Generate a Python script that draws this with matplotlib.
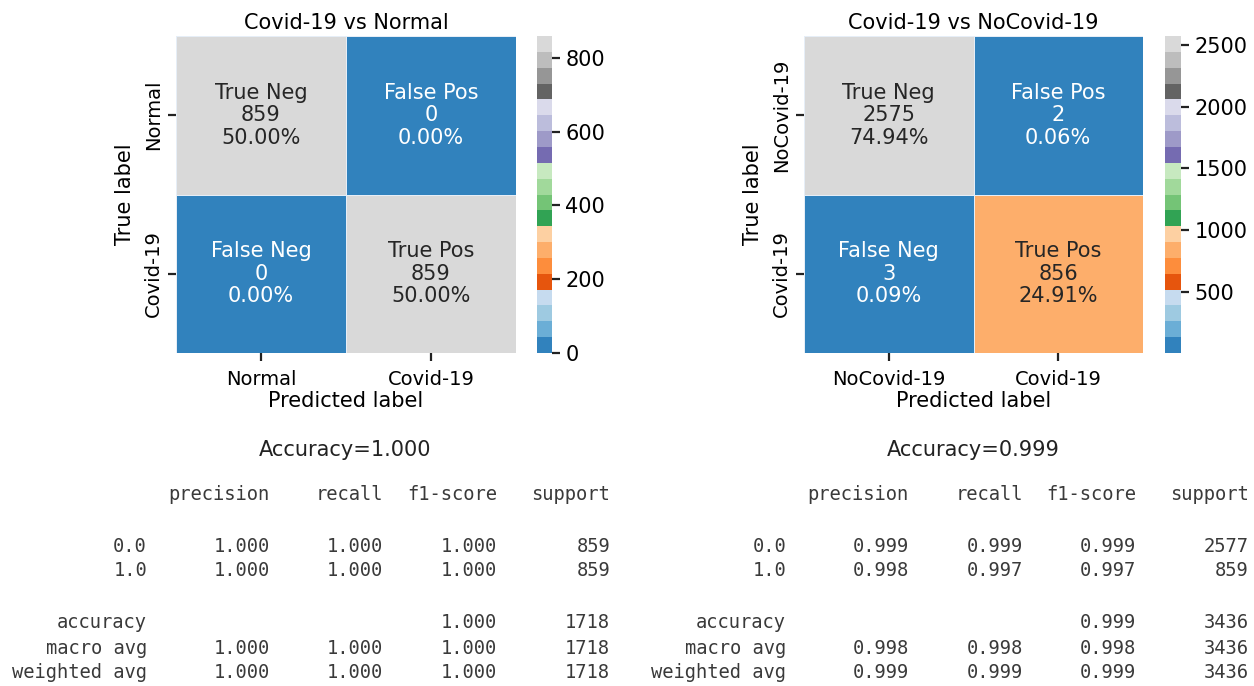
import numpy as np
import matplotlib
matplotlib.use("Agg")
import matplotlib.pyplot as plt
import seaborn as sns

W, H = 1254, 686

# ---------------- data ----------------
titles = ["Covid-19 vs Normal", "Covid-19 vs NoCovid-19"]
class_labels_1 = ["Normal", "Covid-19"]
class_labels_2 = ["NoCovid-19", "Covid-19"]
cm_1 = [[859, 0], [0, 859]]
cm_2 = [[2575, 2], [3, 856]]
group_names = ["True Neg", "False Pos", "False Neg", "True Pos"]
accuracy_1 = 1.000
accuracy_2 = 0.999

report_rows = ["0.0", "1.0", "accuracy", "macro avg", "weighted avg"]
report_cols = ["precision", "recall", "f1-score", "support"]
precision_1 = [1.000, 1.000, None, 1.000, 1.000]
recall_1 = [1.000, 1.000, None, 1.000, 1.000]
f1_1 = [1.000, 1.000, 1.000, 1.000, 1.000]
support_1 = [859, 859, 1718, 1718, 1718]
precision_2 = [0.999, 0.998, None, 0.998, 0.999]
recall_2 = [0.999, 0.997, None, 0.998, 0.999]
f1_2 = [0.999, 0.997, 0.999, 0.998, 0.999]
support_2 = [2577, 859, 3436, 3436, 3436]

cb_ticks_1 = [0, 200, 400, 600, 800]
cb_ticks_2 = [500, 1000, 1500, 2000, 2500]

fig = plt.figure(figsize=(W / 100, H / 100), dpi=100)
fig.patch.set_facecolor("white")


def px_axes(x0, y0, x1, y1):
    return fig.add_axes([x0 / W, 1 - y1 / H, (x1 - x0) / W, (y1 - y0) / H])


def draw_cm(ax, cax, cm, labels, title, ticks):
    cm = np.array(cm)
    total = cm.sum()
    counts = cm.flatten()
    annot = np.array([f"{n}\n{c}\n{c / total * 100:.2f}%" for n, c in zip(group_names, counts)]).reshape(2, 2)
    sns.heatmap(cm, annot=annot, fmt="", cmap="tab20c", ax=ax, cbar_ax=cax,
                linewidths=0.6, linecolor="#e6eef7",
                xticklabels=labels, yticklabels=labels,
                annot_kws={"fontsize": 15, "linespacing": 1.15})
    ax.set_title(title, fontsize=15, pad=5)
    ax.set_xlabel("Predicted label", fontsize=15, labelpad=2)
    ax.set_ylabel("True label", fontsize=15, labelpad=6)
    ax.tick_params(axis="both", length=6, width=1.6, labelsize=14, color="#222222")
    ax.tick_params(axis="x", pad=6)
    plt.setp(ax.get_yticklabels(), rotation=90, va="center")
    plt.setp(ax.get_xticklabels(), rotation=0)
    cax.set_yticks(ticks)
    cax.tick_params(length=6, width=1.6, labelsize=15, color="#222222")
    for s in cax.spines.values():
        s.set_visible(False)


ax1 = px_axes(176, 36, 516, 353)
cax1 = px_axes(537, 36, 552, 353)
draw_cm(ax1, cax1, cm_1, class_labels_1, titles[0], cb_ticks_1)

ax2 = px_axes(804, 36, 1143, 353)
cax2 = px_axes(1165, 36, 1181, 353)
draw_cm(ax2, cax2, cm_2, class_labels_2, titles[1], cb_ticks_2)


def fx(x):
    return x / W


def fy(y):
    return 1 - y / H


def draw_report(center_x, acc, label_r, col_r, prec, rec, f1, sup):
    mono = dict(family="DejaVu Sans Mono", fontsize=13.5, color="#3a3a3a")
    fig.text(fx(center_x), fy(450), f"Accuracy={acc:.3f}", fontsize=15,
             ha="center", va="center", color="#222222")
    for cname, xr in zip(report_cols, col_r):
        fig.text(fx(xr), fy(494), cname, ha="right", va="center", **mono)
    row_y = [546, 571, 623, 648, 673]
    for i, (rname, yy) in enumerate(zip(report_rows, row_y)):
        fig.text(fx(label_r), fy(yy), rname, ha="right", va="center", **mono)
        vals = [prec[i], rec[i], f1[i]]
        for v, xr in zip(vals, col_r[:3]):
            if v is not None:
                fig.text(fx(xr), fy(yy), f"{v:.3f}", ha="right", va="center", **mono)
        fig.text(fx(col_r[3]), fy(yy), f"{sup[i]}", ha="right", va="center", **mono)


draw_report(345, accuracy_1, 147, [270, 383, 497, 610], precision_1, recall_1, f1_1, support_1)
draw_report(973, accuracy_2, 786, [909, 1023, 1136, 1249], precision_2, recall_2, f1_2, support_2)

fig.savefig("out.png", dpi=100, facecolor="white")
